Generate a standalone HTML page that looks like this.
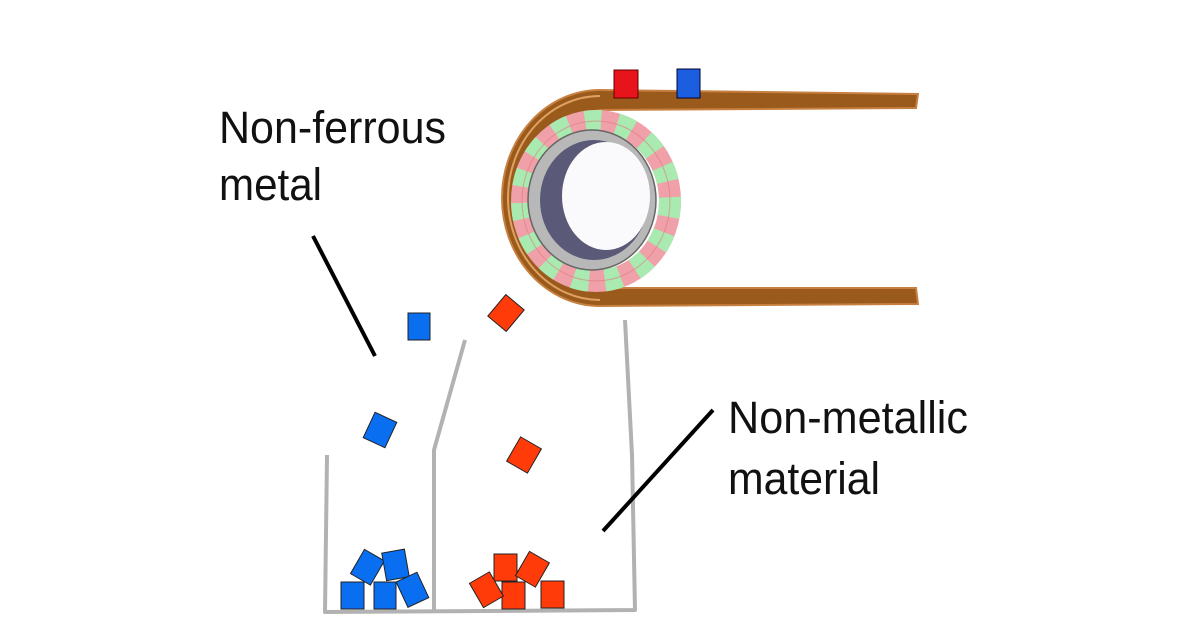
<!DOCTYPE html>
<html><head><meta charset="utf-8"><style>
html,body{margin:0;padding:0;background:#fff;}
svg{display:block;}
text{font-family:"Liberation Sans",Arial,sans-serif;fill:#111;}
</style></head><body>
<svg width="1200" height="630" viewBox="0 0 1200 630" xmlns="http://www.w3.org/2000/svg">
<path d="M918,94 L916,108 L600,110 A82,90 0 0 0 600,288 L916,288 L918,304 L600,306 A98,108 0 0 1 600,90 Z" fill="#9a5a1c" stroke="#c88040" stroke-width="2"/>
<path d="M600,96 A92,102 0 0 0 600,300" fill="none" stroke="#e0a060" stroke-width="2"/>
<ellipse cx="596" cy="201" rx="74" ry="80" fill="none" stroke="#f0a0a8" stroke-width="22"/>
<ellipse cx="596" cy="201" rx="74" ry="80" fill="none" stroke="#a8eab0" stroke-width="22" stroke-dasharray="16 16"/>
<ellipse cx="596" cy="201" rx="74" ry="80" fill="none" stroke="#e07880" stroke-width="1" opacity="0.6"/>
<ellipse cx="592" cy="200" rx="64" ry="70" fill="#b8b8b8" stroke="#666" stroke-width="1.5"/>
<ellipse cx="594" cy="200" rx="54" ry="60" fill="#5a5a78"/>
<ellipse cx="606" cy="196" rx="44" ry="54" fill="#fafafc"/>
<rect x="614" y="70" width="24" height="28" fill="#e8141c" stroke="#600" stroke-width="1"/>
<rect x="677" y="69" width="23" height="29" fill="#1c5ee0" stroke="#003" stroke-width="1"/>
<g fill="none" stroke="#b2b2b2" stroke-width="4" stroke-linejoin="round">
<polyline points="327,455 325,612 635,610 632,455 625,320"/>
<polyline points="434,610 434,450 465,340"/>
</g>
<line x1="313" y1="236" x2="375" y2="356" stroke="#000" stroke-width="4"/>
<line x1="713" y1="410" x2="603" y2="531" stroke="#000" stroke-width="4"/>
<text x="219" y="143" font-size="45" textLength="227" lengthAdjust="spacingAndGlyphs">Non-ferrous</text>
<text x="219" y="200" font-size="45" textLength="103" lengthAdjust="spacingAndGlyphs">metal</text>
<text x="728" y="433" font-size="45" textLength="240" lengthAdjust="spacingAndGlyphs">Non-metallic</text>
<text x="728" y="494" font-size="45" textLength="152" lengthAdjust="spacingAndGlyphs">material</text>
<g stroke="#222" stroke-width="1">
<rect x="408" y="313" width="22" height="27" fill="#0a6ef0"/>
<rect x="-12" y="-14" width="24" height="28" fill="#0a6ef0" transform="translate(380,430) rotate(25)"/>
<rect x="-12" y="-14" width="24" height="28" fill="#ff3b0a" transform="translate(506,313) rotate(40)"/>
<rect x="-12" y="-14" width="24" height="28" fill="#ff3b0a" transform="translate(524,455) rotate(30)"/>
<rect x="341" y="582" width="23" height="27" fill="#0a6ef0"/>
<rect x="374" y="582" width="22" height="27" fill="#0a6ef0"/>
<rect x="-11" y="-14" width="23" height="28" fill="#0a6ef0" transform="translate(367,567) rotate(30)"/>
<rect x="-11" y="-14" width="23" height="28" fill="#0a6ef0" transform="translate(395,565) rotate(-10)"/>
<rect x="-11" y="-14" width="23" height="28" fill="#0a6ef0" transform="translate(412,590) rotate(-25)"/>
<rect x="494" y="554" width="23" height="27" fill="#ff3b0a"/>
<rect x="502" y="582" width="23" height="27" fill="#ff3b0a"/>
<rect x="541" y="581" width="23" height="27" fill="#ff3b0a"/>
<rect x="-11" y="-14" width="23" height="28" fill="#ff3b0a" transform="translate(486,590) rotate(-30)"/>
<rect x="-11" y="-14" width="23" height="28" fill="#ff3b0a" transform="translate(532,569) rotate(30)"/>
</g>
</svg>
</body></html>
